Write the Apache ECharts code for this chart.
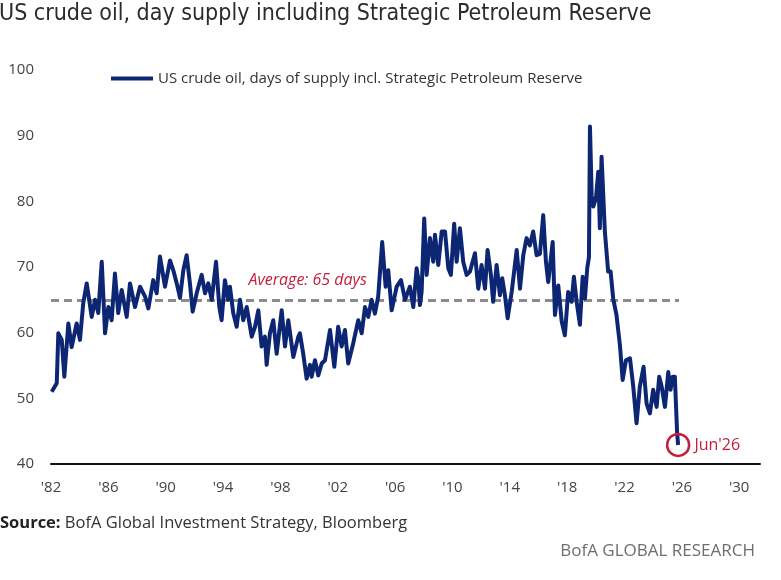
<!DOCTYPE html>
<html>
<head>
<meta charset="utf-8">
<script src="https://cdn.jsdelivr.net/npm/echarts@6/dist/echarts.min.js"></script>
<style>
  html, body { margin: 0; padding: 0; background: #fff; }
  #chart { width: 781px; height: 580px; }
</style>
</head>
<body>
<div id="chart"></div>
<script>
document.addEventListener('DOMContentLoaded', function() {
    var chartDom = document.getElementById('chart');
    var myChart = echarts.init(chartDom);

    // decimal years
    var startYear = 1982;
    var dates = [
        1982.05, 1982.40, 1982.51, 1982.75, 1982.93, 1983.21, 1983.44, 1983.79, 1984.02, 1984.25,
        1984.49, 1984.84, 1985.07, 1985.30, 1985.54, 1985.77, 1986.00, 1986.23, 1986.46, 1986.69,
        1986.93, 1987.28, 1987.51, 1987.86, 1988.21, 1988.56, 1988.79, 1989.13, 1989.37, 1989.60,
        1989.95, 1990.30, 1990.53, 1990.77, 1991.00, 1991.23, 1991.46, 1991.69, 1991.88, 1992.16,
        1992.51, 1992.74, 1992.97, 1993.21, 1993.51, 1993.74, 1993.90, 1994.13, 1994.36, 1994.48,
        1994.71, 1994.95, 1995.18, 1995.41, 1995.65, 1996.00, 1996.23, 1996.46, 1996.69, 1996.92,
        1997.04, 1997.27, 1997.50, 1997.74, 1998.09, 1998.32, 1998.55, 1998.90, 1999.25, 1999.36,
        1999.59, 1999.83, 2000.06, 2000.18, 2000.41, 2000.64, 2000.88, 2001.11, 2001.46, 2001.76,
        2002.03, 2002.27, 2002.50, 2002.73, 2003.08, 2003.43, 2003.67, 2003.90, 2004.13, 2004.36,
        2004.59, 2004.82, 2005.10, 2005.34, 2005.52, 2005.76, 2006.11, 2006.41, 2006.69, 2007.03,
        2007.27, 2007.50, 2007.61, 2007.73, 2007.85, 2008.03, 2008.20, 2008.43, 2008.66, 2008.78,
        2009.01, 2009.25, 2009.48, 2009.71, 2009.89, 2010.12, 2010.29, 2010.52, 2010.75, 2010.99,
        2011.22, 2011.57, 2011.80, 2012.03, 2012.27, 2012.45, 2012.68, 2012.84, 2013.08, 2013.31,
        2013.47, 2013.66, 2013.85, 2014.13, 2014.48, 2014.71, 2014.94, 2015.17, 2015.40, 2015.63,
        2015.87, 2016.10, 2016.33, 2016.52, 2016.68, 2016.99, 2017.15, 2017.38, 2017.62, 2017.84,
        2018.07, 2018.31, 2018.47, 2018.66, 2018.89, 2019.08, 2019.24, 2019.40, 2019.52, 2019.59,
        2019.71, 2019.82, 2020.01, 2020.17, 2020.28, 2020.40, 2020.63, 2020.86, 2021.03, 2021.21,
        2021.44, 2021.68, 2021.87, 2022.10, 2022.38, 2022.61, 2022.84, 2023.07, 2023.33, 2023.54,
        2023.77, 2024.00, 2024.24, 2024.42, 2024.59, 2024.82, 2025.05, 2025.21, 2025.36, 2025.51,
        2025.67, 2025.74
    ];
    var days = [
        51.0, 52.3, 59.9, 58.9, 53.3, 61.4, 57.8, 61.4, 58.9, 64.5,
        67.5, 62.4, 65.0, 63.0, 70.8, 59.9, 63.9, 61.9, 69.0, 63.0,
        66.5, 62.4, 67.5, 63.9, 67.0, 65.5, 63.7, 68.0, 66.0, 71.6,
        67.0, 71.0, 69.5, 67.5, 65.3, 69.5, 71.8, 67.5, 63.2, 66.0,
        68.8, 66.0, 67.5, 65.0, 70.8, 63.9, 61.9, 68.0, 65.0, 67.0,
        63.0, 60.9, 65.0, 61.9, 63.9, 59.4, 60.9, 63.4, 57.9, 59.4,
        55.1, 59.9, 61.9, 56.8, 63.4, 57.9, 61.9, 56.3, 59.4, 59.9,
        56.8, 53.0, 55.1, 53.3, 55.8, 53.5, 55.3, 55.8, 60.4, 54.8,
        60.9, 57.9, 60.4, 55.3, 58.4, 61.9, 59.9, 63.9, 62.4, 65.0,
        62.9, 65.5, 73.8, 67.0, 69.5, 63.4, 67.0, 68.0, 65.0, 67.0,
        63.9, 69.8, 68.3, 64.2, 66.2, 77.4, 68.8, 74.4, 70.8, 74.9,
        70.3, 75.4, 75.4, 69.8, 68.8, 76.6, 70.8, 75.9, 70.8, 68.8,
        69.3, 72.1, 66.7, 70.3, 66.7, 72.6, 68.8, 64.7, 70.3, 65.7,
        68.3, 65.7, 62.2, 66.2, 72.6, 66.7, 71.8, 74.4, 73.3, 75.4,
        71.8, 72.0, 77.9, 70.8, 67.7, 73.8, 62.7, 67.2, 61.7, 59.6,
        66.2, 64.7, 68.5, 64.7, 61.2, 68.5, 65.2, 69.8, 71.5, 91.4,
        80.9, 79.2, 80.5, 84.5, 75.9, 86.8, 75.4, 69.3, 69.3, 65.2,
        62.7, 58.1, 52.8, 55.8, 56.1, 51.8, 46.2, 51.8, 54.8, 49.2,
        47.7, 51.3, 48.7, 53.3, 51.8, 48.7, 54.0, 51.3, 53.3, 53.3,
        44.7, 42.9
    ];
    var average = 65;
    var averageEnd = 2025.8;
    var seriesName = 'US crude oil, days of supply incl. Strategic Petroleum Reserve';

    var navy = '#0d2673';
    var red = '#c41e3a';
    var font = 'Open Sans';
    var narrow = '"DejaVu Sans Condensed", "Open Sans"';

    var data = [];
    for (var i = 0; i < dates.length; i++) {
        data.push([dates[i] - startYear, days[i]]);
    }
    var last = data[data.length - 1];

    var option = {
        animation: false,
        backgroundColor: '#fff',
        textStyle: { fontFamily: font },
        title: {
            text: 'US crude oil, day supply including Strategic Petroleum Reserve',
            left: -1,
            top: 3,
            padding: 0,
            textStyle: { fontFamily: narrow, fontSize: 23, fontWeight: 'normal', color: '#2b2b2b' }
        },
        legend: {
            left: 106,
            top: 66,
            icon: 'rect',
            itemWidth: 42,
            itemHeight: 4,
            itemGap: 5,
            textStyle: { fontFamily: font, fontSize: 15, color: '#333' },
            data: [seriesName]
        },
        grid: { left: 51, right: 21, top: 70, bottom: 116 },
        xAxis: {
            type: 'value',
            min: 0,
            max: 49.45,
            interval: 4,
            axisLine: { lineStyle: { color: '#111', width: 2 } },
            axisTick: { show: false },
            splitLine: { show: false },
            axisLabel: {
                margin: 16,
                fontSize: 15,
                color: '#444',
                formatter: function (v) {
                    if (Math.abs(v % 4) > 0.001) return '';
                    var y = (startYear + Math.round(v)) % 100;
                    return "'" + (y < 10 ? '0' + y : y);
                }
            }
        },
        yAxis: {
            type: 'value',
            min: 40,
            max: 100,
            interval: 10,
            axisLine: { show: false },
            axisTick: { show: false },
            splitLine: { show: false },
            axisLabel: { margin: 17, fontSize: 15, color: '#444' }
        },
        series: [{
            name: seriesName,
            type: 'line',
            data: data,
            showSymbol: false,
            symbol: 'none',
            color: navy,
            lineStyle: { color: navy, width: 4, join: 'round' },
            z: 3,
            markLine: {
                silent: true,
                symbol: 'none',
                label: { show: false },
                lineStyle: { color: '#8c8c8c', width: 3, type: [8, 5] },
                data: [[{ coord: [0, average] }, { coord: [averageEnd - startYear, average] }]],
                z: 2
            },
            markPoint: {
                silent: true,
                data: [
                    {
                        coord: [17.9, 68],
                        symbol: 'circle',
                        symbolSize: 0,
                        label: {
                            show: true,
                            position: 'inside',
                            formatter: 'Average: ' + average + ' days',
                            fontStyle: 'italic',
                            fontSize: 16,
                            color: red
                        }
                    },
                    {
                        coord: last,
                        symbol: 'circle',
                        symbolSize: 22,
                        itemStyle: { color: 'rgba(0,0,0,0)', borderColor: red, borderWidth: 2.5 },
                        label: {
                            show: true,
                            position: 'right',
                            distance: 4,
                            formatter: "Jun'26",
                            fontSize: 16,
                            color: red
                        }
                    }
                ]
            }
        }],
        graphic: [
            {
                type: 'text',
                left: 0,
                top: 515,
                style: {
                    text: '{b|Source:} BofA Global Investment Strategy, Bloomberg',
                    rich: {
                        b: { fontFamily: font, fontSize: 16.5, fontWeight: 'bold', fill: '#222' }
                    },
                    fontFamily: font,
                    fontSize: 16.5,
                    fill: '#333'
                }
            },
            {
                type: 'text',
                right: 26,
                top: 543,
                style: {
                    text: 'BofA GLOBAL RESEARCH',
                    fontFamily: font,
                    fontSize: 17,
                    fill: '#6e6e6e'
                }
            }
        ]
    };

    myChart.setOption(option);
});
</script>
</body>
</html>
